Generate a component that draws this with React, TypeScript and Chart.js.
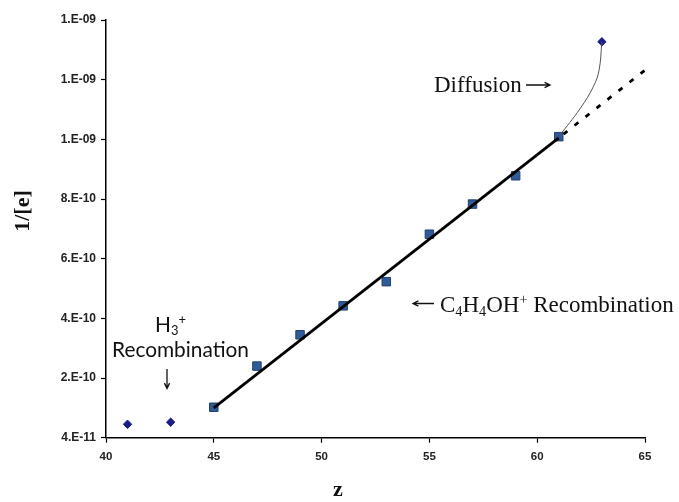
import React, { useEffect, useRef } from "react";
import { Chart, registerables } from "chart.js";

Chart.register(...registerables);

// ---- data ----
const h3Z = [41, 43];
const h3Inv = [8.5e-11, 9.2e-11];

const c4Z = [45, 47, 49, 51, 53, 55, 57, 59, 61];
const c4Inv = [1.42e-10, 2.8e-10, 3.85e-10, 4.82e-10, 5.63e-10, 7.22e-10, 8.23e-10, 9.18e-10, 1.049e-9];

const diffZ = [63];
const diffInv = [1.367e-9];

const fitZ = [45, 61];
const fitInv = [1.4e-10, 1.045e-9];

const extZ = [61, 65];
const extInv = [1.045e-9, 1.272e-9];

const curveZ = [61, 62.0, 62.6, 62.87, 63];
const curveInv = [1.049e-9, 1.144e-9, 1.216e-9, 1.272e-9, 1.367e-9];

const xTickValues = [40, 45, 50, 55, 60, 65];
const yTickValues = [4e-11, 2.4e-10, 4.4e-10, 6.4e-10, 8.4e-10, 1.04e-9, 1.24e-9, 1.44e-9];
const yTickLabels = ["4.E-11", "2.E-10", "4.E-10", "6.E-10", "8.E-10", "1.E-09", "1.E-09", "1.E-09"];

const toPts = (xs: number[], ys: number[]) => xs.map((x, i) => ({ x, y: ys[i] }));

const SERIF = "'Liberation Serif', 'Times New Roman', serif";
const SANS_CAL = "Lato, 'Open Sans', sans-serif";
const TICK_FONT = "'Liberation Sans', Arial, sans-serif";

type Part = { t: string; m?: "sub" | "sup" };
function drawRich(ctx: CanvasRenderingContext2D, parts: Part[], x: number, y: number, size: number, family: string) {
  let cx = x;
  ctx.textAlign = "left";
  ctx.textBaseline = "alphabetic";
  for (const p of parts) {
    let s = size;
    let dy = 0;
    if (p.m === "sub") {
      s = size * 0.62;
      dy = size * 0.16;
    } else if (p.m === "sup") {
      s = size * 0.62;
      dy = -size * 0.36;
    }
    ctx.font = `${s}px ${family}`;
    ctx.fillText(p.t, cx, y + dy);
    cx += ctx.measureText(p.t).width;
  }
  return cx;
}

function arrow(ctx: CanvasRenderingContext2D, x1: number, y1: number, x2: number, y2: number) {
  const a = Math.atan2(y2 - y1, x2 - x1);
  const h = 6;
  ctx.beginPath();
  ctx.moveTo(x1, y1);
  ctx.lineTo(x2, y2);
  ctx.moveTo(x2 - h * Math.cos(a - 0.45), y2 - h * Math.sin(a - 0.45));
  ctx.lineTo(x2, y2);
  ctx.lineTo(x2 - h * Math.cos(a + 0.45), y2 - h * Math.sin(a + 0.45));
  ctx.stroke();
}

const annotations = {
  id: "annotations",
  afterDraw(chart: any) {
    const ctx: CanvasRenderingContext2D = chart.ctx;
    ctx.save();
    ctx.fillStyle = "#111";
    ctx.strokeStyle = "#111";
    ctx.lineWidth = 1.3;

    // axis titles
    ctx.font = `bold 22px ${SERIF}`;
    ctx.textAlign = "center";
    ctx.textBaseline = "middle";
    ctx.save();
    ctx.translate(23, 211);
    ctx.rotate(-Math.PI / 2);
    ctx.fillText("1/[e]", 0, 0);
    ctx.restore();
    ctx.fillText("z", 338, 490);

    // Diffusion →
    drawRich(ctx, [{ t: "Diffusion" }], 434, 92, 23, SERIF);
    arrow(ctx, 526, 85, 550, 85);

    // ← C4H4OH+ Recombination
    arrow(ctx, 434, 303.5, 413, 303.5);
    drawRich(
      ctx,
      [
        { t: "C" },
        { t: "4", m: "sub" },
        { t: "H" },
        { t: "4", m: "sub" },
        { t: "OH" },
        { t: "+", m: "sup" },
        { t: " Recombination" },
      ],
      440,
      312,
      23,
      SERIF
    );

    // H3+ Recombination (sans)
    ctx.font = `20px ${SANS_CAL}`;
    const w = ctx.measureText("Recombination").width;
    const size = (20 * 137) / w;
    drawRich(ctx, [{ t: "H" }, { t: "3", m: "sub" }, { t: "+", m: "sup" }], 155, 332, size, SANS_CAL);
    ctx.font = `${size}px ${SANS_CAL}`;
    ctx.textAlign = "left";
    ctx.fillText("Recombination", 112, 357);

    // down arrow
    arrow(ctx, 167, 369, 167, 388.5);

    ctx.restore();
  },
};

export default function App() {
  const ref = useRef<HTMLCanvasElement>(null);
  useEffect(() => {
    if (!ref.current) return;
    const chart = new Chart(ref.current, {
      type: "scatter",
      data: {
        datasets: [
          {
            label: "fit",
            data: toPts(fitZ, fitInv),
            showLine: true,
            borderColor: "#000",
            borderWidth: 2.8,
            pointRadius: 0,
          },
          {
            label: "extrapolation",
            data: toPts(extZ, extInv),
            showLine: true,
            borderColor: "#000",
            borderWidth: 2.8,
            borderDash: [5, 9],
            borderDashOffset: -6,
            pointRadius: 0,
          },
          {
            label: "curve",
            data: toPts(curveZ, curveInv),
            showLine: true,
            borderColor: "#555",
            borderWidth: 1,
            tension: 0.4,
            pointRadius: 0,
          },
          {
            label: "C4H4OH+",
            data: toPts(c4Z, c4Inv),
            pointStyle: "rect",
            pointRadius: 6,
            backgroundColor: "#2f5b98",
            borderColor: "#22406e",
            borderWidth: 1,
          },
          {
            label: "H3+",
            data: toPts(h3Z, h3Inv).concat(toPts(diffZ, diffInv)),
            pointStyle: "rectRot",
            pointRadius: 4.2,
            backgroundColor: "#1c1c8a",
            borderColor: "#1c1c8a",
            borderWidth: 1,
          },
        ],
      },
      options: {
        animation: false,
        responsive: false,
        layout: { padding: { top: 20, right: 34, left: 0, bottom: 0 } },
        plugins: { legend: { display: false }, tooltip: { enabled: false } },
        scales: {
          x: {
            type: "linear",
            min: 40,
            max: 65,
            afterBuildTicks: (s: any) => {
              s.ticks = xTickValues.map((v) => ({ value: v }));
            },
            afterFit: (s: any) => {
              s.height = 64.3;
            },
            border: { display: true, color: "#000", width: 1.5 },
            grid: { display: true, drawOnChartArea: false, drawTicks: true, tickLength: 5, color: "#000", tickWidth: 1.2 },
            ticks: {
              color: "#222",
              font: { family: TICK_FONT, size: 11.5, weight: "bold" },
              padding: 7,
              maxRotation: 0,
            },
          },
          y: {
            type: "linear",
            min: 4e-11,
            max: 1.44e-9,
            afterBuildTicks: (s: any) => {
              s.ticks = yTickValues.map((v) => ({ value: v }));
            },
            afterFit: (s: any) => {
              s.width = 106;
            },
            border: { display: true, color: "#000", width: 1.5 },
            grid: { display: true, drawOnChartArea: false, drawTicks: true, tickLength: 5, color: "#000", tickWidth: 1.2 },
            ticks: {
              color: "#222",
              font: { family: TICK_FONT, size: 12, weight: "bold" },
              padding: 5,
              callback: (v: any) => {
                const i = yTickValues.findIndex((t) => Math.abs(t - Number(v)) < 1e-13);
                return i >= 0 ? yTickLabels[i] : "";
              },
            },
          },
        },
      },
      plugins: [annotations],
    });
    return () => chart.destroy();
  }, []);
  return (
    <div style={{ position: "absolute", left: 0, top: 0, width: 679, height: 502, background: "#fff" }}>
      <canvas ref={ref} width={679} height={502} />
    </div>
  );
}
